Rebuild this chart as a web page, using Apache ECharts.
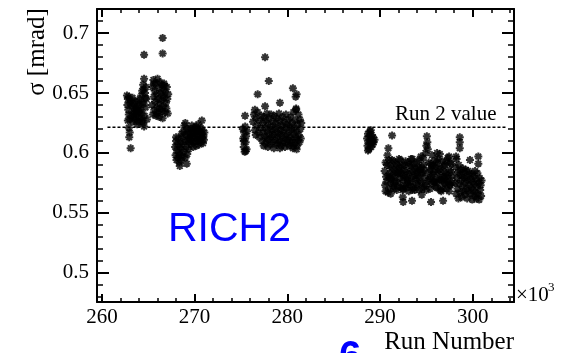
<!DOCTYPE html>
<html><head><meta charset="utf-8">
<script src="https://cdn.jsdelivr.net/npm/echarts@6/dist/echarts.min.js"></script>
<style>html,body{margin:0;padding:0;background:#fff}#c{width:575px;height:353px}</style>
</head><body><div id="c"></div>
<script>
const xMajor = [260, 270, 280, 290, 300];
const xMinor = [262, 264, 266, 268, 272, 274, 276, 278, 282, 284, 286, 288, 292, 294, 296, 298, 302, 304];
const yMajor = [0.5, 0.55, 0.6, 0.65, 0.7];
const yMinor = [0.48, 0.49, 0.51, 0.52, 0.53, 0.54, 0.56, 0.57, 0.58, 0.59, 0.61, 0.62, 0.63, 0.64, 0.66, 0.67, 0.68, 0.69, 0.71];
const xRange = [259.47, 304.45];
const yRange = [0.4755, 0.7202];
const run2X = [260.6, 303.6];
const run2Y = [0.6215, 0.6215];

const groupA = [[262.7,0.648],[262.8,0.645],[262.9,0.647],[263.0,0.642],[262.75,0.640],[262.85,0.636],[263.1,0.644],[263.2,0.639],[263.3,0.646],[263.4,0.641],[263.5,0.637],[262.9,0.632],[263.0,0.628],[263.2,0.631],[263.4,0.633],[263.5,0.629],[262.8,0.627],[263.3,0.626],[262.9,0.621],[263.0,0.617],[262.95,0.613],[263.1,0.604],[263.6,0.635],[263.55,0.643]];
const groupB = [[263.65,0.632],[263.7,0.627],[263.75,0.638],[263.8,0.624],[263.85,0.643],[263.9,0.630],[263.95,0.635],[264.0,0.626],[264.05,0.640],[264.1,0.645],[264.15,0.629],[264.2,0.636],[264.25,0.648],[264.3,0.633],[264.35,0.652],[264.4,0.627],[264.45,0.657],[264.5,0.641],[264.55,0.662],[264.6,0.631],[264.65,0.650],[264.7,0.638],[264.75,0.655],[264.8,0.645],[264.85,0.628],[264.55,0.622],[264.4,0.625],[264.0,0.634],[264.3,0.642],[263.8,0.637],[264.5,0.653],[264.7,0.646],[264.55,0.682]];
const groupC = [[265.4,0.640],[265.45,0.655],[265.5,0.632],[265.55,0.661],[265.6,0.647],[265.65,0.636],[265.7,0.652],[265.75,0.643],[265.8,0.658],[265.85,0.631],[265.9,0.649],[265.95,0.638],[266.0,0.662],[266.05,0.645],[266.1,0.634],[266.15,0.654],[266.2,0.641],[266.25,0.659],[266.3,0.637],[266.35,0.650],[266.4,0.644],[266.45,0.657],[266.5,0.635],[266.55,0.648],[266.6,0.653],[266.65,0.639],[266.7,0.646],[266.75,0.656],[266.8,0.634],[266.85,0.651],[266.9,0.642],[266.95,0.637],[267.0,0.655],[267.05,0.645],[267.1,0.633],[267.15,0.649],[265.6,0.658],[265.9,0.633],[266.2,0.630],[266.7,0.658],[266.55,0.629],[266.55,0.696],[266.55,0.683]];
const groupD = [[267.9,0.605],[267.95,0.598],[268.0,0.610],[268.05,0.594],[268.1,0.602],[268.15,0.607],[268.2,0.596],[268.25,0.612],[268.3,0.600],[268.35,0.592],[268.4,0.605],[268.45,0.598],[268.5,0.609],[268.55,0.594],[268.6,0.603],[268.65,0.613],[268.7,0.597],[268.75,0.607],[268.8,0.618],[268.85,0.601],[268.9,0.623],[268.95,0.610],[269.0,0.596],[269.05,0.615],[269.1,0.605],[269.15,0.620],[269.2,0.599],[269.25,0.611],[269.3,0.617],[269.35,0.603],[269.4,0.609],[269.45,0.614],[268.4,0.589],[269.15,0.591],[268.0,0.613],[268.6,0.616],[269.0,0.625]];
const groupE = [[269.5,0.612],[269.55,0.620],[269.6,0.607],[269.65,0.616],[269.7,0.623],[269.75,0.610],[269.8,0.618],[269.85,0.605],[269.9,0.614],[269.95,0.621],[270.0,0.609],[270.05,0.617],[270.1,0.612],[270.15,0.622],[270.2,0.606],[270.25,0.615],[270.3,0.619],[270.35,0.610],[270.4,0.624],[270.45,0.613],[270.5,0.607],[270.55,0.618],[270.6,0.611],[270.65,0.621],[270.7,0.609],[270.75,0.616],[270.8,0.613],[270.85,0.619],[270.9,0.608],[270.95,0.614],[271.0,0.611],[271.05,0.617],[270.78,0.627]];
const groupF = [[275.2,0.620],[275.25,0.612],[275.3,0.605],[275.35,0.617],[275.4,0.601],[275.45,0.622],[275.5,0.609],[275.55,0.614],[275.6,0.603],[275.65,0.618],[275.3,0.610],[275.5,0.6015],[275.44,0.631]];
const groupG = [[276.3,0.626],[276.4,0.632],[276.5,0.619],[276.6,0.629],[276.7,0.623],[276.8,0.634],[276.9,0.617],[277.0,0.627],[277.1,0.621],[277.2,0.631],[276.6,0.615],[277.0,0.613],
[277.3,0.610],[277.35,0.625],[277.4,0.617],[277.45,0.606],[277.5,0.630],[277.55,0.614],[277.6,0.621],[277.65,0.608],[277.7,0.627],[277.75,0.612],[277.8,0.633],[277.85,0.618],[277.9,0.605],[277.95,0.624],[278.0,0.611],[278.05,0.629],[278.1,0.616],[278.15,0.607],[278.2,0.622],[278.25,0.632],[278.3,0.613],[278.35,0.619],[278.4,0.609],[278.45,0.626],[278.5,0.615],[278.55,0.604],[278.6,0.631],[278.65,0.620],[278.7,0.611],[278.75,0.625],[278.8,0.607],[278.85,0.617],[278.9,0.629],[278.95,0.613],[279.0,0.622],[279.05,0.608],[279.1,0.633],[279.15,0.616],[279.2,0.610],[279.25,0.627],[279.3,0.619],[279.35,0.606],[279.4,0.623],[279.45,0.614],[279.5,0.630],[279.55,0.609],[279.6,0.618],[279.65,0.626],[279.7,0.612],[279.75,0.605],[279.8,0.621],[279.85,0.632],[279.9,0.615],[279.95,0.608],[280.0,0.624],[280.05,0.611],[280.1,0.628],[280.15,0.617],[280.2,0.606],[280.25,0.622],[280.3,0.613],[280.35,0.630],[280.4,0.609],[280.45,0.619],[280.5,0.625],[280.55,0.611],[280.6,0.604],[280.65,0.634],[280.7,0.616],[280.75,0.621],[280.8,0.608],[280.85,0.627],[280.9,0.613],[280.95,0.637],[281.0,0.618],[281.05,0.606],[281.1,0.624],[281.15,0.611],[281.2,0.632],[281.25,0.615],[281.3,0.609],[281.35,0.628],[281.4,0.620],[281.45,0.612],[281.5,0.625],
[277.6,0.680],[278.0,0.660],[276.8,0.649],[279.2,0.642],[280.6,0.654],[280.9,0.647],[281.0,0.649],[277.6,0.639],[276.5,0.636],[279.2,0.604],[280.6,0.6055],[281.0,0.603],[280.95,0.636]];
const groupH = [[288.6,0.612],[288.65,0.606],[288.7,0.616],[288.75,0.609],[288.8,0.603],[288.85,0.614],[288.9,0.618],[288.95,0.608],[289.0,0.611],[289.05,0.605],[289.1,0.615],[289.15,0.610],[289.2,0.607],[289.25,0.613],[289.3,0.609],[289.4,0.611],[288.7,0.602],[289.0,0.619]];
const groupI = [[290.5,0.585],[290.6,0.592],[290.7,0.576],[290.8,0.598],[290.9,0.581],[291.0,0.570],[291.1,0.589],[291.2,0.578],[291.3,0.594],[291.4,0.572],[291.5,0.586],[291.6,0.580],[291.7,0.591],[291.8,0.569],[291.9,0.583],[292.0,0.575],[292.1,0.588],[292.2,0.594],[292.3,0.571],[292.4,0.582],[292.5,0.577],[292.6,0.590],[292.7,0.573],[292.8,0.585],[292.9,0.579],[293.0,0.592],[293.1,0.568],[293.2,0.584],[293.3,0.576],[293.4,0.589],[293.5,0.595],[293.6,0.571],[293.7,0.581],[293.8,0.587],[293.9,0.574],[294.0,0.592],[294.1,0.579],[294.2,0.569],[294.3,0.586],[294.4,0.597],[294.5,0.575],[294.6,0.583],[294.7,0.590],[294.8,0.572],[294.9,0.600],[295.0,0.606],[295.1,0.609],[295.2,0.577],[295.3,0.585],[295.4,0.570],[295.5,0.591],[295.6,0.598],[295.7,0.582],[295.8,0.576],[295.9,0.576],[296.0,0.589],[296.1,0.571],[296.2,0.584],[296.3,0.595],[296.4,0.578],[296.5,0.587],[296.6,0.568],[296.7,0.593],[296.8,0.580],[296.9,0.575],[297.0,0.590],[297.1,0.583],[297.2,0.570],[297.3,0.596],[297.4,0.579],[297.5,0.586],[297.6,0.573],[297.7,0.591],[297.8,0.581],
[290.55,0.573],[290.65,0.580],[290.75,0.590],[290.85,0.567],[290.95,0.594],[291.05,0.583],[291.15,0.575],[291.25,0.587],[291.35,0.581],[291.45,0.593],[291.55,0.570],[291.65,0.576],[291.75,0.584],[291.85,0.590],[291.95,0.572],[292.05,0.595],[292.15,0.579],[292.25,0.583],[292.35,0.589],[292.45,0.569],[292.55,0.586],[292.65,0.580],[292.75,0.593],[292.85,0.571],[292.95,0.577],[293.05,0.582],[293.15,0.590],[293.25,0.573],[293.35,0.595],[293.45,0.579],[293.55,0.585],[293.65,0.591],[293.75,0.569],[293.85,0.578],[293.95,0.584],[294.05,0.573],[294.15,0.588],[294.25,0.594],[294.35,0.577],[294.45,0.583],[294.55,0.570],[294.65,0.596],[294.75,0.586],[294.85,0.580],[294.95,0.574],[295.05,0.614],[295.15,0.603],[295.25,0.592],[295.35,0.579],[295.45,0.586],[295.55,0.574],[295.65,0.589],[295.75,0.590],[295.85,0.584],[295.95,0.594],[296.05,0.578],[296.15,0.592],[296.25,0.575],[296.35,0.586],[296.45,0.599],[296.55,0.581],[296.65,0.577],[296.75,0.570],[296.85,0.589],[296.95,0.584],[297.05,0.574],[297.15,0.593],[297.25,0.581],[297.35,0.576],[297.45,0.568],[297.55,0.592],[297.65,0.584],[297.75,0.575],
[290.6,0.568],[291.0,0.579],[291.5,0.575],[292.0,0.585],[292.5,0.570],[293.0,0.574],[293.5,0.569],[294.0,0.582],[294.5,0.588],[295.0,0.569],[295.5,0.580],[296.0,0.572],[296.5,0.569],[297.0,0.578],[297.5,0.573],
[290.9,0.604],[291.15,0.566],[292.45,0.563],[292.5,0.559],[293.45,0.560],[294.5,0.565],[295.5,0.559],[296.8,0.560],[296.15,0.600],[297.45,0.597]];
const groupJ = [[298.1,0.575],[298.15,0.588],[298.2,0.566],[298.25,0.595],[298.3,0.579],[298.35,0.570],[298.4,0.584],[298.45,0.562],[298.5,0.590],[298.55,0.574],[298.6,0.582],[298.65,0.567],[298.7,0.586],[298.75,0.577],[298.8,0.563],[298.85,0.581],[298.9,0.572],[298.95,0.587],[299.0,0.568],[299.05,0.579],[299.1,0.584],[299.15,0.565],[299.2,0.575],[299.25,0.586],[299.3,0.570],[299.35,0.580],[299.4,0.562],[299.45,0.577],[299.5,0.585],[299.55,0.568],[299.6,0.573],[299.65,0.582],[299.7,0.594],[299.75,0.566],[299.8,0.578],[299.85,0.571],[299.9,0.583],[299.95,0.561],[300.0,0.576],[300.05,0.569],[300.1,0.581],[300.15,0.564],[300.2,0.574],[300.25,0.585],[300.3,0.567],[300.35,0.578],[300.4,0.562],[300.45,0.572],[300.5,0.583],[300.55,0.566],[300.6,0.597],[300.65,0.575],[300.7,0.561],[300.75,0.579],[300.8,0.569],[300.85,0.573],[300.9,0.564],[300.95,0.577],[300.6,0.591],
[298.6,0.613],[298.6,0.609],[298.6,0.604],[298.2,0.597]];
const outliers = [[291.3,0.6145]];

const serif = 'Liberation Serif';
const starPath = 'path://M5,0L5,10M0,5L10,5M1.5,1.5L8.5,8.5M1.5,8.5L8.5,1.5';

function xAx(pos, ticks, len, w, line, labels) {
  return {
    type: 'value', position: pos, min: xRange[0], max: xRange[1],
    axisLine: { show: line, onZero: false, lineStyle: { color: '#000', width: 2 } },
    axisTick: { show: true, inside: true, length: len, lineStyle: { color: '#000', width: w }, customValues: ticks },
    axisLabel: labels ? { show: true, customValues: ticks, fontFamily: serif, fontSize: 21, color: '#000', margin: 5 } : { show: false },
    splitLine: { show: false }
  };
}
function yAx(pos, ticks, len, w, line, labels) {
  return {
    type: 'value', position: pos, min: yRange[0], max: yRange[1],
    axisLine: { show: line, onZero: false, lineStyle: { color: '#000', width: 2 } },
    axisTick: { show: true, inside: true, length: len, lineStyle: { color: '#000', width: w }, customValues: ticks },
    axisLabel: labels ? { show: true, customValues: ticks, fontFamily: serif, fontSize: 21, color: '#000', margin: 8 } : { show: false },
    splitLine: { show: false }
  };
}

const allPoints = [].concat(groupA, groupB, groupC, groupD, groupE, groupF, groupG, groupH, groupI, groupJ, outliers);

const chart = echarts.init(document.getElementById('c'), null, { renderer: 'canvas' });
chart.setOption({
  animation: false,
  backgroundColor: '#fff',
  grid: { left: 97, top: 9, right: 61, bottom: 51, containLabel: false },
  xAxis: [
    xAx('bottom', xMajor, 8, 2, true, true),
    xAx('bottom', xMinor, 4, 1.5, false, false),
    xAx('top', xMajor, 8, 2, true, false),
    xAx('top', xMinor, 4, 1.5, false, false)
  ],
  yAxis: [
    yAx('left', yMajor, 12, 2, true, true),
    yAx('left', yMinor, 6, 1.5, false, false),
    yAx('right', yMajor, 12, 2, true, false),
    yAx('right', yMinor, 6, 1.5, false, false)
  ],
  series: [
    {
      type: 'line', xAxisIndex: 0, yAxisIndex: 0,
      data: run2X.map((x, i) => [x, run2Y[i]]),
      symbol: 'none', silent: true,
      lineStyle: { color: '#000', width: 1.5, type: [3, 2] }
    },
    {
      type: 'scatter', xAxisIndex: 0, yAxisIndex: 0,
      data: allPoints,
      symbol: starPath, symbolSize: 8, silent: true,
      itemStyle: { color: '#000', borderColor: '#000', borderWidth: 2 }
    }
  ],
  graphic: [
    { type: 'text', left: 395, top: 104, style: { text: 'Run 2 value', font: '21px "Liberation Serif"', fill: '#000' } },
    { type: 'text', x: 168, y: 230, style: { text: 'RICH2', font: '41px "Liberation Sans"', fill: '#0000ff', verticalAlign: 'middle' } },
    { type: 'text', x: 37, y: 52, rotation: Math.PI / 2, style: { text: 'σ [mrad]', font: '25px "Liberation Serif"', fill: '#000', align: 'center', verticalAlign: 'middle' } },
    { type: 'text', x: 514, y: 342, style: { text: 'Run Number', font: '25px "Liberation Serif"', fill: '#000', align: 'right', verticalAlign: 'middle' } },
    { type: 'text', x: 516, y: 295, style: { text: '×10', font: '21px "Liberation Serif"', fill: '#000', verticalAlign: 'middle' } },
    { type: 'text', x: 548, y: 288, style: { text: '3', font: '13px "Liberation Serif"', fill: '#000', verticalAlign: 'middle' } },
    { type: 'text', x: 350, y: 358, style: { text: '6', font: 'bold 40px "Liberation Sans"', fill: '#0000ff', align: 'center', verticalAlign: 'middle' } }
  ]
});
</script>
</body></html>
